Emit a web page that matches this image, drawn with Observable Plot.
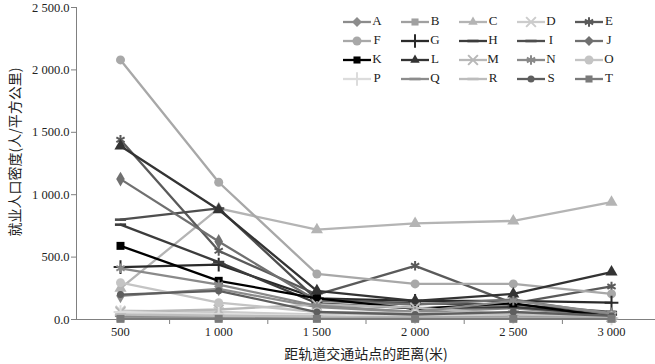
<!DOCTYPE html>
<html><head><meta charset="utf-8">
<script src="https://cdn.jsdelivr.net/npm/d3@7"></script>
<script src="https://cdn.jsdelivr.net/npm/@observablehq/plot@0.6"></script>
<style>
body{margin:0;background:#fff;}
#chart{position:relative;width:655px;height:364px;}
</style></head>
<body><div id="chart"></div>
<script>
const distances = [500, 1000, 1500, 2000, 2500, 3000];
const xTickLabels = ["500", "1 000", "1 500", "2 000", "2 500", "3 000"];
const yTicks = [0, 500, 1000, 1500, 2000, 2500];
const seriesNames = ["A","B","C","D","E","F","G","H","I","J","K","L","M","N","O","P","Q","R","S","T"];
const A = [190, 245, 100, 60, 90, 30];
const B = [15, 15, 15, 15, 15, 15];
const C = [250, 890, 720, 770, 790, 940];
const D = [70, 60, 40, 30, 40, 20];
const E = [1440, 550, 200, 430, 130, 265];
const F = [2080, 1100, 365, 285, 285, 205];
const G = [420, 440, 170, 150, 150, 135];
const H = [760, 460, 130, 90, 100, 40];
const I = [800, 890, 160, 130, 120, 60];
const J = [1125, 625, 150, 120, 160, 40];
const K = [590, 310, 170, 85, 130, 20];
const L = [1390, 880, 230, 150, 205, 380];
const M = [60, 80, 120, 95, 40, 20];
const N = [410, 280, 110, 60, 150, 50];
const O = [295, 135, 60, 50, 40, 20];
const P = [60, 40, 30, 20, 20, 10];
const Q = [30, 25, 20, 15, 20, 10];
const R = [40, 30, 20, 15, 15, 10];
const S = [200, 230, 60, 40, 60, 30];
const T = [5, 5, 5, 5, 5, 5];
const values = {A,B,C,D,E,F,G,H,I,J,K,L,M,N,O,P,Q,R,S,T};

const dash = {draw(ctx, size){ const w = Math.sqrt(size) * 1.4; ctx.moveTo(-w/2, -1.3); ctx.lineTo(w/2, -1.3); ctx.lineTo(w/2, 1.3); ctx.lineTo(-w/2, 1.3); ctx.closePath(); }};
const styles = {
  A:{c:"#8c8c8c", s:"diamond"}, B:{c:"#a0a0a0", s:"square"}, C:{c:"#b4b4b4", s:"triangle"},
  D:{c:"#cccccc", s:"times"}, E:{c:"#5a5a5a", s:"asterisk"}, F:{c:"#a8a8a8", s:"circle"},
  G:{c:"#2a2a2a", s:"plus"}, H:{c:"#3c3c3c", s:dash}, I:{c:"#4e4e4e", s:dash},
  J:{c:"#707070", s:"diamond"}, K:{c:"#000000", s:"square"}, L:{c:"#333333", s:"triangle"},
  M:{c:"#b8b8b8", s:"times"}, N:{c:"#8a8a8a", s:"asterisk"}, O:{c:"#c4c4c4", s:"circle"},
  P:{c:"#dcdcdc", s:"plus"}, Q:{c:"#8c8c8c", s:dash}, R:{c:"#bcbcbc", s:dash},
  S:{c:"#5e5e5e", s:"circle"}, T:{c:"#7a7a7a", s:"square"}
};
const strokeSyms = new Set(["times","asterisk","plus"]);

const loc = d3.formatLocale({decimal:".", thousands:" ", grouping:[3], currency:["",""]});
const fy = loc.format(",.1f");

const rows = [];
for (const n of seriesNames) values[n].forEach((v,i)=>rows.push({series:n, x:distances[i], y:v}));

const marks = [
  Plot.ruleY([0], {stroke:"#808080", strokeWidth:1}),
  Plot.ruleX([276], {stroke:"#808080", strokeWidth:1}),
  Plot.axisY({ticks: yTicks, tickFormat: fy, tickSize:5, tickPadding:2, fontSize:12.5, stroke:"#808080", label:null}),
  Plot.axisX({ticks: distances, tickFormat: (d)=>xTickLabels[distances.indexOf(d)], tickSize:0, tickPadding:8, fontSize:12.5, label:null}),
  Plot.axisX({ticks: [750,1250,1750,2250,2750], tickFormat: ()=>"", tickSize:5, stroke:"#808080", label:null})
];
for (const n of seriesNames) {
  const st = styles[n];
  const data = rows.filter(r=>r.series===n);
  marks.push(Plot.line(data, {x:"x", y:"y", stroke: st.c, strokeWidth:2.3}));
  const isStroke = typeof st.s === "string" && strokeSyms.has(st.s);
  marks.push(Plot.dot(data, {x:"x", y:"y", symbol: st.s, r: n==="S"?3.5:4.5,
    fill: isStroke ? "none" : st.c, stroke: st.c, strokeWidth: isStroke ? 2 : 0}));
}

const plot = Plot.plot({
  width:655, height:364, marginLeft:76, marginRight:0, marginTop:7, marginBottom:45,
  style:{fontFamily:"'Liberation Serif', 'Noto Sans CJK SC', serif", fontSize:"13px", color:"#222", background:"#fff", overflow:"visible"},
  x:{type:"linear", domain:[276,3224], axis:null},
  y:{domain:[0,2500], axis:null},
  marks
});
document.getElementById("chart").appendChild(plot);

const svg = d3.select(plot);
svg.append("text").attr("transform","translate(16,152) rotate(-90)").attr("text-anchor","middle")
  .attr("dominant-baseline","middle").style("font-size","14px").style("font-family","'Noto Sans CJK SC', serif")
  .attr("fill","#222").text("就业人口密度(人/平方公里)");
svg.append("text").attr("x",366).attr("y",355).attr("text-anchor","middle").attr("dominant-baseline","middle")
  .style("font-size","14px").style("font-family","'Noto Sans CJK SC', serif").attr("fill","#222").text("距轨道交通站点的距离(米)");

// legend
const lg = svg.append("g");
const colX = [343, 401, 459, 517, 575];
const rowY = [22, 41, 60, 79];
const typeMap = {diamond:d3.symbolDiamond2, square:d3.symbolSquare2, triangle:d3.symbolTriangle2, times:d3.symbolTimes, asterisk:d3.symbolAsterisk, circle:d3.symbolCircle, plus:d3.symbolPlus};
seriesNames.forEach((n,i)=>{
  const st = styles[n];
  const x0 = colX[i%5], y0 = rowY[Math.floor(i/5)];
  const g = lg.append("g");
  g.append("line").attr("x1",x0).attr("x2",x0+28).attr("y1",y0).attr("y2",y0).attr("stroke",st.c).attr("stroke-width",2.3);
  const t = typeof st.s === "string" ? typeMap[st.s] : st.s;
  const isStroke = typeof st.s === "string" && strokeSyms.has(st.s);
  const r = n==="S"?3.5:4.5;
  g.append("path").attr("transform",`translate(${x0+14},${y0})`).attr("d", d3.symbol(t, Math.PI*r*r)())
    .attr("fill", isStroke?"none":st.c).attr("stroke", st.c).attr("stroke-width", isStroke?2:0);
  g.append("text").attr("x",x0+34).attr("y",y0).attr("dominant-baseline","middle")
    .style("font-size","13px").attr("fill","#222").text(n);
});
</script></body></html>
